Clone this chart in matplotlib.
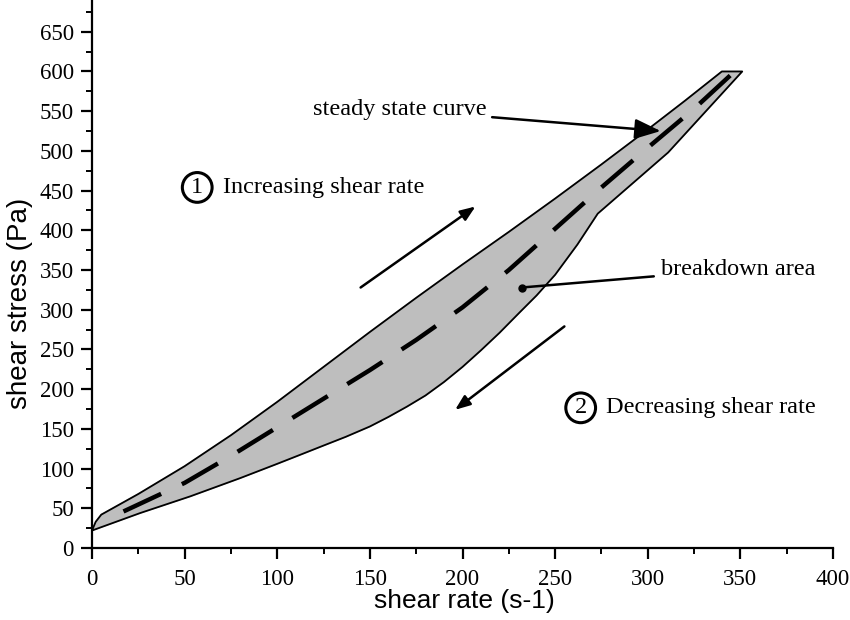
import matplotlib.pyplot as plt
from matplotlib.ticker import MultipleLocator

# upper branch (increasing shear rate)
up_rate = [0, 2, 5, 25, 50, 75, 100, 125, 150, 175, 200, 225, 250, 275, 300, 320, 340, 351]
up_stress = [22, 33, 42, 68, 103, 142, 184, 228, 272, 315, 357, 398, 440, 483, 527, 563, 600, 600]

# lower branch (decreasing shear rate)
down_rate = [351, 311, 273, 262, 250, 240, 231, 220, 210, 200, 190, 180, 170, 160, 150,
             137, 125, 112, 100, 80, 53, 26, 0]
down_stress = [600, 498, 421, 382, 344, 318, 297, 271, 249, 228, 209, 192, 178, 165, 153,
               140, 129, 117, 106, 88, 65, 44, 22]

# steady state curve
ss_rate = [17, 50, 75, 100, 125, 150, 175, 200, 225, 250, 275, 300, 325, 345]
ss_stress = [46, 82, 116, 152, 188, 224, 262, 303, 350, 402, 454, 504, 553, 596]

xticks = [0, 50, 100, 150, 200, 250, 300, 350, 400]
yticks = [0, 50, 100, 150, 200, 250, 300, 350, 400, 450, 500, 550, 600, 650]

serif = "Liberation Serif"
sans = "Liberation Sans"

fig = plt.figure(figsize=(8.5, 6.2), dpi=100)
ax = fig.add_axes([92 / 850, 1 - 548 / 620, 741 / 850, 548 / 620])

# breakdown area polygon
poly_x = up_rate + down_rate
poly_y = up_stress + down_stress
ax.fill(poly_x, poly_y, color="#bebebe", zorder=1)
ax.plot(poly_x, poly_y, color="black", lw=1.3, zorder=2)

ax.plot(ss_rate, ss_stress, color="black", lw=3.2, linestyle=(0, (9.35, 5.15)),
        solid_capstyle="butt", zorder=3)

ax.set_xlim(0, 400)
ax.set_ylim(0, 690)
ax.set_xticks(xticks)
ax.set_yticks(yticks)
ax.xaxis.set_minor_locator(MultipleLocator(25))
ax.yaxis.set_minor_locator(MultipleLocator(25))
ax.spines["top"].set_visible(False)
ax.spines["right"].set_visible(False)
for s in ["left", "bottom"]:
    ax.spines[s].set_linewidth(1.6)
ax.tick_params(which="major", length=8, width=1.6, direction="out")
ax.tick_params(which="minor", length=4, width=1.4, direction="out")
ax.tick_params(axis="x", which="major", pad=7)
ax.tick_params(axis="y", which="major", pad=5)
for lab in ax.get_xticklabels() + ax.get_yticklabels():
    lab.set_fontfamily(serif)
    lab.set_fontsize(16.5)

ax.set_xlabel("shear rate (s-1)", fontfamily=sans, fontsize=19)
ax.set_ylabel("shear stress (Pa)", fontfamily=sans, fontsize=20)
ax.xaxis.set_label_coords(0.503, -0.075)
ax.yaxis.set_label_coords(-0.080, 0.447)

txt = dict(fontfamily=serif, fontsize=17.5, va="center")
head = "-|>,head_length=0.9,head_width=0.35"

# steady state curve label
ax.annotate("steady state curve", xy=(307, 525), xytext=(213, 552),
            ha="right", **txt,
            arrowprops=dict(arrowstyle=head, color="black", lw=1.8, shrinkA=2, shrinkB=0))

# increasing label
ax.text(56.8, 454, "1", ha="center", **txt,
        bbox=dict(boxstyle="circle,pad=0.18", fc="white", ec="black", lw=2.2))
ax.text(70.5, 454, "Increasing shear rate", ha="left", **txt)
ax.annotate("", xy=(207, 430), xytext=(145, 328),
            arrowprops=dict(arrowstyle=head, color="black", lw=1.8, shrinkA=0, shrinkB=0))

# breakdown area label
ax.annotate("breakdown area", xy=(232, 328), xytext=(307, 351),
            ha="left", **txt,
            arrowprops=dict(arrowstyle="-", color="black", lw=1.8, shrinkA=3, shrinkB=0))
ax.plot([232], [328], "o", color="black", ms=5, zorder=4)

# decreasing label
ax.text(263.8, 176.5, "2", ha="center", **txt,
        bbox=dict(boxstyle="circle,pad=0.18", fc="white", ec="black", lw=2.2))
ax.text(277.3, 176.5, "Decreasing shear rate", ha="left", **txt)
ax.annotate("", xy=(196, 174), xytext=(255, 279),
            arrowprops=dict(arrowstyle=head, color="black", lw=1.8, shrinkA=0, shrinkB=0))

fig.savefig("out.png", dpi=100)
